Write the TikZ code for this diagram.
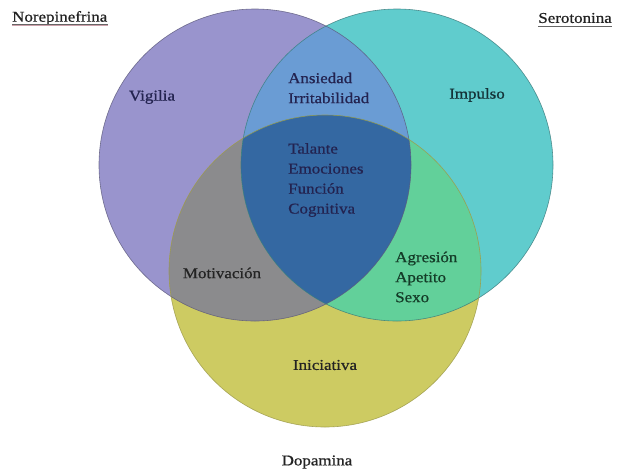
\documentclass[tikz,border=0pt]{standalone}
\usepackage{fontspec}
\setmainfont{Liberation Serif}
\newfontfamily\vennfont{Liberation Serif}[FakeBold=0.7]
\usetikzlibrary{positioning}
\definecolor{purple1}{RGB}{153,148,205}
\definecolor{cyan1}{RGB}{96,204,205}
\definecolor{yellow1}{RGB}{205,203,98}
\definecolor{lightblue1}{RGB}{106,156,212}
\definecolor{grey1}{RGB}{139,139,141}
\definecolor{green1}{RGB}{98,208,154}
\definecolor{darkblue1}{RGB}{52,104,162}
\definecolor{navy1}{RGB}{35,35,80}
\definecolor{teal1}{RGB}{20,50,55}
\definecolor{forest1}{RGB}{20,60,40}
\definecolor{ink1}{RGB}{35,35,35}
\definecolor{rose1}{RGB}{205,160,170}

\begin{document}
\begin{tikzpicture}[x=1pt, y=-1pt,
    every node/.style={font=\vennfont\fontsize{15}{20}\selectfont, xscale=1.13, inner sep=0pt},
    regtext/.style={align=left, anchor=west},
    rim/.style={line width=0.6pt, opacity=0.8}
]
\useasboundingbox (0,0) rectangle (617,475);

\coordinate (pc) at (255,165);
\coordinate (cc) at (397,165);
\coordinate (yc) at (325,271);

% Draw the three sets
\fill[purple1] (pc) circle (156);
\fill[cyan1] (cc) circle (156);
\fill[yellow1] (yc) circle (156);

% Draw the overlaps
\begin{scope}
    \clip (pc) circle (156);
    \fill[lightblue1] (cc) circle (156);
    \fill[grey1] (yc) circle (156);
\end{scope}
\begin{scope}
    \clip (cc) circle (156);
    \fill[green1] (yc) circle (156);
    \clip (pc) circle (156);
    \fill[darkblue1] (yc) circle (156);
\end{scope}

\draw[rim, purple1!60!black] (pc) circle (156);
\draw[rim, cyan1!60!black] (cc) circle (156);
\draw[rim, yellow1!75!black] (yc) circle (156);

% Set names
\node[anchor=west, text=ink1] (nore) at (12,18) {Norepinefrina};
\draw[rose1, line width=1.2pt] ([yshift=-4pt]nore.base west) -- ([yshift=-4pt]nore.base east);
\draw[gray!80!black] ([yshift=-3pt]nore.base west) -- ([yshift=-3pt]nore.base east);
\node[anchor=east, text=ink1] (sero) at (612,18) {Serotonina};
\draw[rose1, line width=1.2pt] ([yshift=-4pt]sero.base west) -- ([yshift=-4pt]sero.base east);
\draw[gray!80!black] ([yshift=-3pt]sero.base west) -- ([yshift=-3pt]sero.base east);
\node[text=ink1] (dopa) at (317,462) {Dopamina};

% Region texts
\node[text=navy1] (vigilia) at (152,97) {Vigilia};
\node[text=teal1] (impulso) at (477,95) {Impulso};
\node[regtext, text=navy1] (ansiedad) at (288,88) {Ansiedad\\Irritabilidad};
\node[regtext, text=navy1] (talante) at (288,180) {Talante\\Emociones\\Función\\Cognitiva};
\node[text=ink1] (motiva) at (222,273) {Motivación};
\node[regtext, text=forest1] (agresion) at (395,277) {Agresión\\Apetito\\Sexo};
\node[text=ink1] (inicia) at (325,365) {Iniciativa};

\end{tikzpicture}
\end{document}
